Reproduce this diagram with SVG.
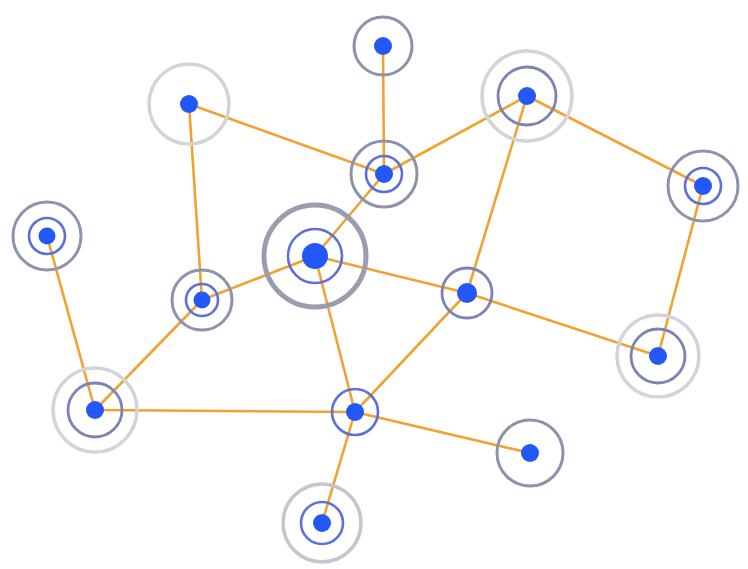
<svg xmlns="http://www.w3.org/2000/svg" width="748" height="569" viewBox="0 0 748 569">
  <style>
    .edge { stroke: #f0a232; stroke-width: 2.6; stroke-linecap: round; fill: none; }
    .dot { fill: #2258f5; }
    .halo { fill: none; stroke: #d3d4d9; stroke-width: 3.5; }
    .outer { fill: none; stroke: #8d92ad; stroke-width: 3; }
    .inner { fill: none; stroke: #5f70d4; stroke-width: 2.6; }
    .mid { fill: none; stroke: #7c83b6; stroke-width: 2.8; }
    .hub { fill: none; stroke: #9a9daf; stroke-width: 5; }
  </style>
  <rect width="748" height="569" fill="#ffffff"/>

  <!-- connectors -->
  <g id="edges">
    <line class="edge" x1="383" y1="46" x2="384" y2="174"/>
    <line class="edge" x1="189" y1="104" x2="384" y2="174"/>
    <line class="edge" x1="189" y1="104" x2="202" y2="300"/>
    <line class="edge" x1="527" y1="96" x2="384" y2="174"/>
    <line class="edge" x1="527" y1="96" x2="703" y2="186"/>
    <line class="edge" x1="527" y1="96" x2="467" y2="293"/>
    <line class="edge" x1="384" y1="174" x2="315" y2="256"/>
    <line class="edge" x1="703" y1="186" x2="658" y2="356"/>
    <line class="edge" x1="47" y1="236" x2="95" y2="410"/>
    <line class="edge" x1="315" y1="256" x2="202" y2="300"/>
    <line class="edge" x1="315" y1="256" x2="467" y2="293"/>
    <line class="edge" x1="315" y1="256" x2="355" y2="412"/>
    <line class="edge" x1="202" y1="300" x2="95" y2="410"/>
    <line class="edge" x1="467" y1="293" x2="658" y2="356"/>
    <line class="edge" x1="467" y1="293" x2="355" y2="412"/>
    <line class="edge" x1="95" y1="410" x2="355" y2="412"/>
    <line class="edge" x1="355" y1="412" x2="530" y2="453"/>
    <line class="edge" x1="355" y1="412" x2="322" y2="523"/>
  </g>

  <!-- nodes -->
  <g id="n1"><circle class="outer" cx="383" cy="46" r="29"/><circle class="dot" cx="383" cy="46" r="9"/></g>
  <g id="n2"><circle class="halo" cx="189" cy="104" r="40"/><circle class="dot" cx="189" cy="104" r="9"/></g>
  <g id="n3"><circle class="halo" cx="527" cy="96" r="45"/><circle class="mid" cx="527" cy="96" r="29"/><circle class="dot" cx="527" cy="96" r="9"/></g>
  <g id="n4"><circle class="outer" cx="384" cy="174" r="33"/><circle class="inner" cx="384" cy="174" r="18"/><circle class="dot" cx="384" cy="174" r="9"/></g>
  <g id="n5"><circle class="outer" cx="703" cy="186" r="35"/><circle class="inner" cx="703" cy="186" r="18"/><circle class="dot" cx="703" cy="186" r="9"/></g>
  <g id="n6"><circle class="outer" cx="47" cy="236" r="34"/><circle class="inner" cx="47" cy="236" r="18"/><circle class="dot" cx="47" cy="236" r="8.5"/></g>
  <g id="n7"><circle class="hub" cx="315" cy="256" r="51"/><circle class="inner" cx="315" cy="256" r="27"/><circle class="dot" cx="315" cy="256" r="13"/></g>
  <g id="n8"><circle class="outer" cx="202" cy="300" r="30"/><circle class="inner" cx="202" cy="300" r="16"/><circle class="dot" cx="202" cy="300" r="8.5"/></g>
  <g id="n9"><circle class="mid" cx="467" cy="293" r="25"/><circle class="dot" cx="467" cy="293" r="10"/></g>
  <g id="n10"><circle class="halo" cx="658" cy="356" r="41"/><circle class="mid" cx="658" cy="356" r="27"/><circle class="dot" cx="658" cy="356" r="9"/></g>
  <g id="n11"><circle class="halo" cx="95" cy="410" r="42"/><circle class="mid" cx="95" cy="410" r="27"/><circle class="dot" cx="95" cy="410" r="9"/></g>
  <g id="n12"><circle class="inner" cx="355" cy="412" r="23"/><circle class="dot" cx="355" cy="412" r="9"/></g>
  <g id="n13"><circle class="outer" cx="530" cy="453" r="33"/><circle class="dot" cx="530" cy="453" r="9"/></g>
  <g id="n14"><circle class="halo" cx="322" cy="523" r="39" style="stroke:#c4c5cd"/><circle class="inner" cx="322" cy="523" r="21"/><circle class="dot" cx="322" cy="523" r="9"/></g>
</svg>
